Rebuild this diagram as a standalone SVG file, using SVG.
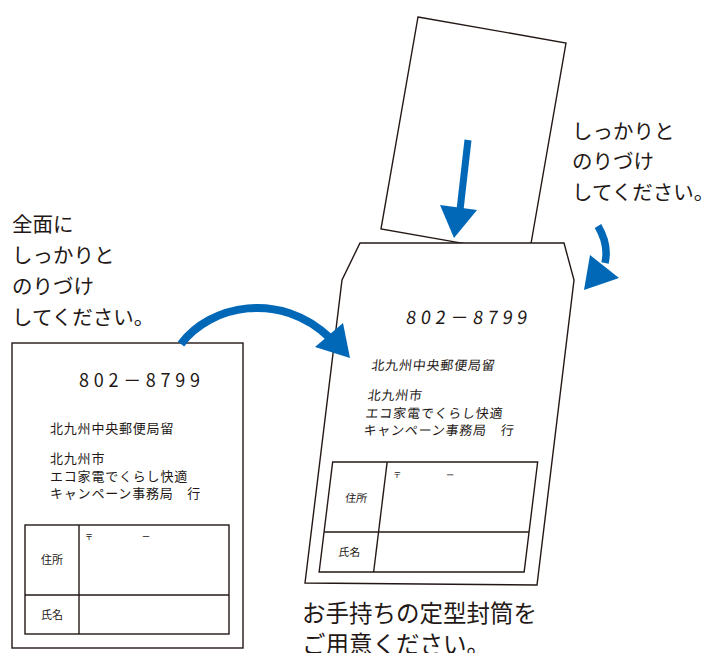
<svg xmlns="http://www.w3.org/2000/svg" width="718" height="653" viewBox="0 0 718 653">
<defs>
<style>
.t{font-family:"Noto Sans CJK JP","Noto Sans",sans-serif;fill:#231815}
.big{font-size:20.5px}
.addr{font-size:13px;letter-spacing:0.8px}
.sm{font-size:11px}
.xs{font-size:8px}
.zip{font-family:"Noto Sans CJK JP","Noto Sans",sans-serif;font-size:18px;fill:#231815}
.ln{fill:#fff;stroke:#231815;stroke-width:1.4}
.tb{fill:none;stroke:#231815;stroke-width:1.4}
.bl{fill:#0068b7}
.bs{fill:none;stroke:#0068b7;stroke-linecap:butt}
</style>
</defs>
<rect width="718" height="653" fill="#fff"/>

<g id="insert-card">
<polygon class="ln" points="418,17 566,43 529,255 381,229"/>
</g>

<g id="envelope">
<polygon class="ln" points="360,243 564,243 574,280 537,585 305,583 342,280"/>
<g transform="translate(0,280) skewX(-7) translate(0,-280)">
<text class="zip" x="411" y="324" textLength="121" lengthAdjust="spacing">802－8799</text>
<text class="t addr" x="382" y="370">北九州中央郵便局留</text>
<text class="t addr" x="382" y="400">北九州市</text>
<text class="t addr" x="382" y="418">エコ家電でくらし快適</text>
<text class="t addr" x="382" y="435">キャンペーン事務局　行</text>
<rect class="tb" x="355" y="462" width="205" height="110"/>
<line class="tb" x1="409.5" y1="462" x2="409.5" y2="572"/>
<line class="tb" x1="355" y1="532" x2="560" y2="532"/>
<text class="t xs" x="417" y="478">〒</text>
<text class="t xs" x="470" y="478">ー</text>
<text class="t sm" x="372" y="502">住所</text>
<text class="t sm" x="372" y="556">氏名</text>
</g>
</g>

<g id="left-card">
<rect class="ln" x="12" y="343" width="231" height="305"/>
<text class="zip" x="79" y="387" textLength="121" lengthAdjust="spacing">802－8799</text>
<text class="t addr" x="50" y="433">北九州中央郵便局留</text>
<text class="t addr" x="50" y="463">北九州市</text>
<text class="t addr" x="50" y="481">エコ家電でくらし快適</text>
<text class="t addr" x="50" y="498">キャンペーン事務局　行</text>
<rect class="tb" x="25" y="525" width="204" height="109"/>
<line class="tb" x1="79" y1="525" x2="79" y2="634"/>
<line class="tb" x1="25" y1="595" x2="229" y2="595"/>
<text class="t xs" x="85" y="540">〒</text>
<text class="t xs" x="142" y="540">ー</text>
<text class="t sm" x="41" y="564">住所</text>
<text class="t sm" x="41" y="619">氏名</text>
</g>

<g id="labels">
<text class="t big" x="12" y="232">全面に</text>
<text class="t big" x="12" y="263">しっかりと</text>
<text class="t big" x="12" y="294">のりづけ</text>
<text class="t big" x="12" y="325">してください。</text>
<text class="t big" x="572" y="139">しっかりと</text>
<text class="t big" x="572" y="169">のりづけ</text>
<text class="t big" x="572" y="200">してください。</text>
<text class="t" style="font-size:23.5px" x="302" y="622">お手持ちの定型封筒を</text>
<text class="t" style="font-size:23.5px" x="302" y="653">ご用意ください。</text>
</g>

<g id="connectors">
<path class="bs" stroke-width="8" d="M181,344 C210,305 280,290 330,338"/>
<polygon class="bl" points="315,347 343,323 350,358"/>
<line class="bs" stroke-width="7" x1="468" y1="140" x2="460" y2="210"/>
<polygon class="bl" points="440,205 477,210 454,238"/>
<path class="bs" stroke-width="7.5" d="M598,226 C605,238 608,250 605,263"/>
<polygon class="bl" points="590,255 619,278 584,290"/>
</g>
</svg>
